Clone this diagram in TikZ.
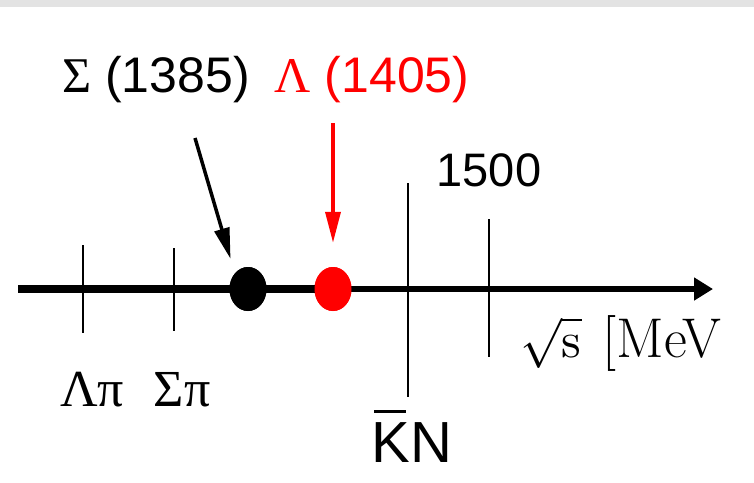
\documentclass[tikz,border=0pt]{standalone}
\usepackage{graphicx}
\usepackage{fontspec}
\setsansfont{Liberation Sans}
\newfontfamily\grfont{Liberation Serif}
\usetikzlibrary{arrows.meta,positioning,shapes.geometric}

\begin{document}
\begin{tikzpicture}[
    x=1pt, y=-1pt,
    font=\sffamily,
    big/.style={font=\sffamily\fontsize{50}{58}\selectfont},
    dot/.style={ellipse, fill, inner sep=0pt, minimum width=37pt, minimum height=44pt},
    tick/.style={line width=2pt},
    pointer/.style={-{Triangle[length=31pt,width=15pt]}, line width=3.5pt}
]
\useasboundingbox (0,0) rectangle (754,482);
\fill[gray!22] (0,0) rectangle (754,7);

% axis
\coordinate (axL) at (18,289);
\coordinate (axR) at (713,289);
\node[dot, black] (sigDot) at (248,289) {};
\node[dot, red] (lamDot) at (333,289) {};
\draw[line width=8.5pt] (axL) -- (lamDot.center);
\draw[line width=6.5pt, -{Triangle[length=19pt,width=22pt]}] (lamDot.center) -- (axR);
\node[dot, black] at (sigDot) {};
\node[dot, red] at (lamDot) {};

% thresholds
\draw[tick] (83,245) -- (83,333);
\draw[tick] (174,248) -- (174,331);
\draw[tick] (408,183) -- (408,397);
\draw[tick] (489,219) -- (489,357);

% labels
\node[big] (sigLbl) at (156,80) {{\grfont Σ} (1385)};
\node[big, red] (lamLbl) at (372,80) {{\grfont Λ} (1405)};
\node[big, font=\sffamily\fontsize{47}{56}\selectfont] (mLbl) at (489,170) {1500};
\node[font=\rmfamily\fontsize{56}{64}\selectfont, inner sep=0pt] (sLbl) at (621,343)
  {\scalebox{5}{\normalsize$\sqrt{\mathrm{s}}$}\hspace{0.38em}[MeV};
\node[font=\grfont\fontsize{52}{60}\selectfont] (lpLbl) at (92,390) {Λπ};
\node[font=\grfont\fontsize{52}{60}\selectfont] (spLbl) at (182,390) {Σπ};
\node[font=\sffamily\fontsize{58}{66}\selectfont] (knLbl) at (412,436)
  {\rlap{\hspace{0.04em}\rule[0.86em]{0.55em}{0.05em}}KN};

% pointers
\coordinate (sigTail) at (195,138);
\coordinate (lamTail) at (333,123);
\draw[pointer, shorten >=15pt] (sigTail) -- (sigDot.north west);
\draw[pointer, red, shorten >=24pt] (lamTail) -- (lamDot.north);
\end{tikzpicture}
\end{document}
